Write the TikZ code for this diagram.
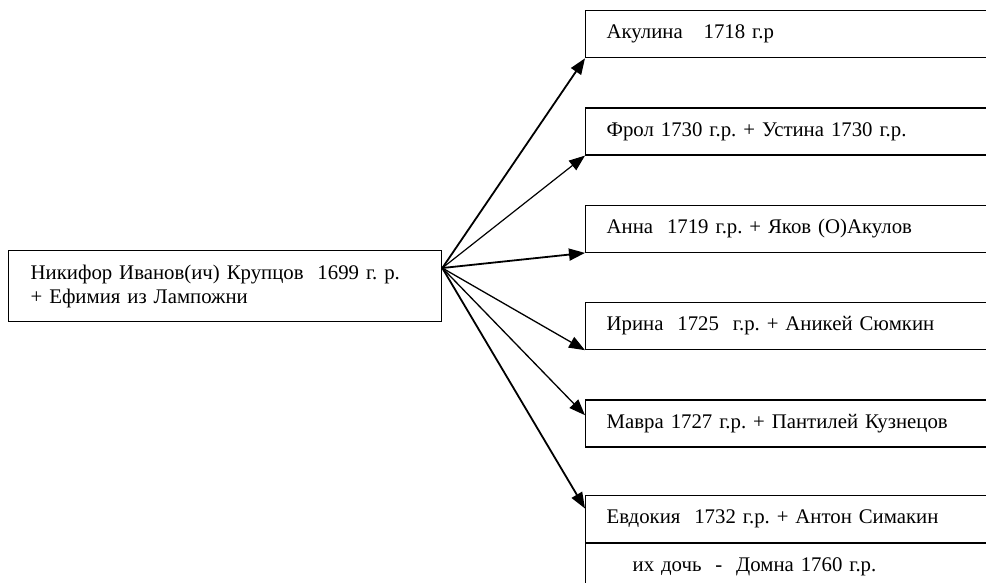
\documentclass[tikz,border=0pt]{standalone}
\usepackage{fontspec}
\setmainfont{Liberation Serif}
\usetikzlibrary{positioning,calc,arrows.meta}
\frenchspacing

\begin{document}
\begin{tikzpicture}[x=1pt,y=-1pt,
    font=\fontsize{20.8}{24}\selectfont,
    box/.style={draw,line width=1.3pt,inner xsep=21pt,inner ysep=0pt,
      minimum height=47pt,text width=430pt,align=left},
    kid/.style={box,anchor=north west},
    link/.style={-{Triangle[length=16pt,width=12pt]},line width=#1},
    node distance=49pt]
    \clip (0,0) rectangle (986,582);
    \node[box,anchor=north west,minimum height=71pt,inner xsep=22pt,text width=389pt] (nikifor) at (8,250)
        {Никифор Иванов(ич) Крупцов\ \ 1699 г. р.\\+ Ефимия из Лампожни};
    \node[kid] (akulina) at (585,10) {Акулина\ \ \ 1718 г.р};
    \node[kid,below=of akulina] (frol) {Фрол 1730 г.р. + Устина 1730 г.р.};
    \node[kid,below=of frol] (anna) {Анна\ \ 1719 г.р. + Яков (О)Акулов};
    \node[kid,below=of anna] (irina) {Ирина\ \ 1725\ \ г.р. + Аникей Сюмкин};
    \node[kid,below=of irina] (mavra) {Мавра 1727 г.р. + Пантилей Кузнецов};
    \node[kid,below=47pt of mavra] (evdokia) {Евдокия\ \ 1732 г.р. + Антон Симакин};
    \node[kid,below=0pt of evdokia] (domna) {\hspace*{26pt}их дочь\ \ -\ \ Домна 1760 г.р.};
    % arrows to the children
    \coordinate (hub) at ($(nikifor.north east)+(0,18)$);
    \foreach \kid/\lw in {akulina/1.8pt, frol/1.2pt, anna/1.8pt, irina/1.3pt}
        \draw[link=\lw] (hub) -- (\kid.south west);
    \draw[link=1.3pt] (hub) -- ([yshift=-16pt]mavra.north west);
    \draw[link=1.8pt] (hub) -- ([yshift=-14pt]evdokia.north west);
\end{tikzpicture}
\end{document}
